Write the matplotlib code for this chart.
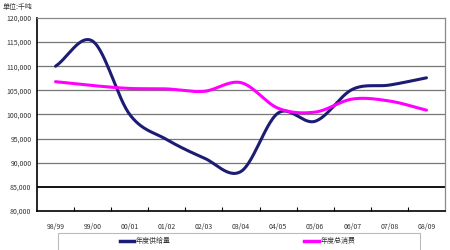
import numpy as np
import matplotlib
matplotlib.use("Agg")
import matplotlib.pyplot as plt
from matplotlib.lines import Line2D
from matplotlib.patches import Rectangle

plt.rcParams['font.family'] = ['Noto Sans CJK SC', 'DejaVu Sans']

categories = ["98/99", "99/00", "00/01", "01/02", "02/03", "03/04",
              "04/05", "05/06", "06/07", "07/08", "08/09"]
supply = [110000, 115200, 100000, 94800, 91000, 88200,
          100300, 98600, 105200, 106100, 107600]
consumption = [106800, 106000, 105400, 105300, 104800, 106600,
               101300, 100500, 103200, 102800, 100900]
series_names = ["年度供给量", "年度总消费"]
yticks = [80000, 85000, 90000, 95000, 100000, 105000, 110000, 115000, 120000]
unit_label = "单位:千吨"


def smooth(x, y, n=30):
    # Catmull-Rom style smoothing similar to spreadsheet "smoothed line"
    x = np.asarray(x, float)
    y = np.asarray(y, float)
    px = np.concatenate([[2 * x[0] - x[1]], x, [2 * x[-1] - x[-2]]])
    py = np.concatenate([[2 * y[0] - y[1]], y, [2 * y[-1] - y[-2]]])
    xs, ys = [], []
    t = np.linspace(0, 1, n)
    for i in range(1, len(px) - 2):
        p0, p1, p2, p3 = px[i - 1], px[i], px[i + 1], px[i + 2]
        q0, q1, q2, q3 = py[i - 1], py[i], py[i + 1], py[i + 2]
        for arr, (a0, a1, a2, a3) in ((xs, (p0, p1, p2, p3)), (ys, (q0, q1, q2, q3))):
            c1 = a1 + (a2 - a0) / 6
            c2 = a2 - (a3 - a1) / 6
            arr.append((1 - t) ** 3 * a1 + 3 * (1 - t) ** 2 * t * c1
                       + 3 * (1 - t) * t ** 2 * c2 + t ** 3 * a2)
    return np.concatenate(xs), np.concatenate(ys)


fig = plt.figure(figsize=(4.5, 2.5), dpi=100)
ax = fig.add_axes([37 / 450, 1 - 211 / 250, 408 / 450, 193 / 250])

x = np.arange(len(categories))
navy = "#1c1c74"
pink = "#ff00ff"
sx, sy = smooth(x, supply)
cx, cy = smooth(x, consumption)
ax.plot(sx, sy, color=navy, lw=2.2, solid_capstyle='round')
ax.plot(cx, cy, color=pink, lw=2.2, solid_capstyle='round')

ax.set_xlim(-0.5, len(categories) - 0.5)
ax.set_ylim(80000, 120000)
ax.set_yticks(yticks)
ax.set_yticklabels([f"{v:,}" for v in yticks], fontsize=5, color="#333333")
ax.set_xticks(x)
ax.set_xticklabels(categories, fontsize=5, color="#333333")
ax.tick_params(axis='x', length=0, pad=9)
ax.tick_params(axis='y', length=0, pad=4)
ax.set_xticks(np.arange(0.5, len(categories) - 1, 1), minor=True)
ax.tick_params(axis='x', which='minor', direction='in', length=3, color='black', width=0.8)

for v in yticks[1:-1]:
    if v == 85000:
        ax.axhline(v, color='black', lw=1.3, zorder=0)
    else:
        ax.axhline(v, color='#777777', lw=0.9, zorder=0)

ax.spines['left'].set_color('black')
ax.spines['left'].set_linewidth(1.2)
ax.spines['bottom'].set_color('black')
ax.spines['bottom'].set_linewidth(1.2)
ax.spines['top'].set_color('#888888')
ax.spines['top'].set_linewidth(0.9)
ax.spines['right'].set_color('#888888')
ax.spines['right'].set_linewidth(0.9)

fig.text(3 / 450, 1 - 7 / 250, unit_label, fontsize=5, color="#333333", va='center', ha='left')

# legend box
fig.patches.append(Rectangle((58 / 450, -0.02), 362 / 450, 1 - 233 / 250 + 0.02,
                             transform=fig.transFigure, fill=False,
                             edgecolor='#bbbbbb', lw=0.8))
ly = 1 - 241 / 250
for (x0, x1, tx), col, name in zip([(120, 134, 136), (304, 319, 321)], [navy, pink], series_names):
    fig.lines.append(Line2D([x0 / 450, x1 / 450], [ly, ly], transform=fig.transFigure,
                            color=col, lw=2.5))
    fig.text(tx / 450, ly, name, fontsize=5, va='center', ha='left', color="#333333")

fig.savefig("out.png", dpi=100)
